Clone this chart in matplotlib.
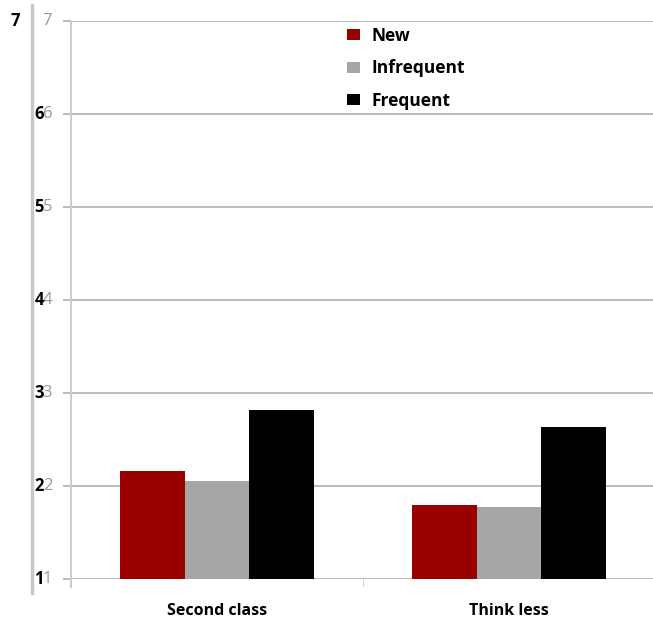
import numpy as np
import matplotlib
matplotlib.use("Agg")
from matplotlib import pyplot as plt
from matplotlib.lines import Line2D

# данные графика
categories = ["Second class", "Think less"]
series = ["New", "Infrequent", "Frequent"]
new_vals = [2.16, 1.80]
infrequent_vals = [2.05, 1.77]
frequent_vals = [2.82, 2.63]
colors = ["#990000", "#a6a6a6", "#000000"]
yticks = [1, 2, 3, 4, 5, 6, 7]

plt.rcParams['font.family'] = ['Open Sans', 'DejaVu Sans']

fig = plt.figure(figsize=(6.53, 6.19), dpi=100)
W, H = 653, 619
ax = fig.add_axes([71 / W, 40 / H, 584 / W, 558 / H])

x = np.arange(len(categories))
w = 0.222
for i, (vals, name) in enumerate(zip([new_vals, infrequent_vals, frequent_vals], series)):
    ax.bar(x + (i - 1) * w, np.array(vals) - 1, bottom=1, width=w,
           color=colors[i], label=name, zorder=3)

ax.set_xlim(-0.5, 1.5)
ax.set_ylim(1, 7)
ax.set_yticks(yticks)
ax.set_yticklabels([])
ax.yaxis.grid(True, color="#b4b4b4", linewidth=1.3, zorder=0)
ax.tick_params(axis="y", length=6, color="#b4b4b4", width=1.3)
ax.set_xticks(x)
ax.set_xticklabels(categories, fontsize=11.5, fontweight="bold")
ax.set_xticks([0.5], minor=True)
ax.tick_params(axis="x", which="major", length=0, pad=17)
ax.tick_params(axis="x", which="minor", length=5, color="#c8c8c8")
for s in ["top", "right", "bottom"]:
    ax.spines[s].set_visible(False)
ax.spines["left"].set_color("#cccccc")
ax.spines["left"].set_linewidth(1.5)
ax.spines["left"].set_bounds(0.91, 7)

# двойные подписи оси y
tr = ax.get_yaxis_transform()
for t in yticks:
    ax.text(-0.0322, t, str(t), transform=tr, ha="right", va="center",
            fontsize=12, color="#999999", clip_on=False)
    xb = -0.0873 if t == 7 else -0.0465
    ax.text(xb, t, str(t), transform=tr, ha="right", va="center",
            fontsize=12, fontweight="bold", color="black", clip_on=False)

# серая вертикальная линия слева
fig.add_artist(Line2D([32 / W, 32 / W], [(H - 593) / H, (H - 5) / H], color="#c8c8c8",
                      linewidth=2.5, transform=fig.transFigure))

ax.legend(loc="upper left", bbox_to_anchor=((331 - 71) / 584, 1.018),
          frameon=False, handlelength=0.75, handleheight=0.6, handletextpad=0.7,
          labelspacing=0.85, prop={"weight": "bold", "size": 12.5})

fig.savefig("out.png", dpi=100)
